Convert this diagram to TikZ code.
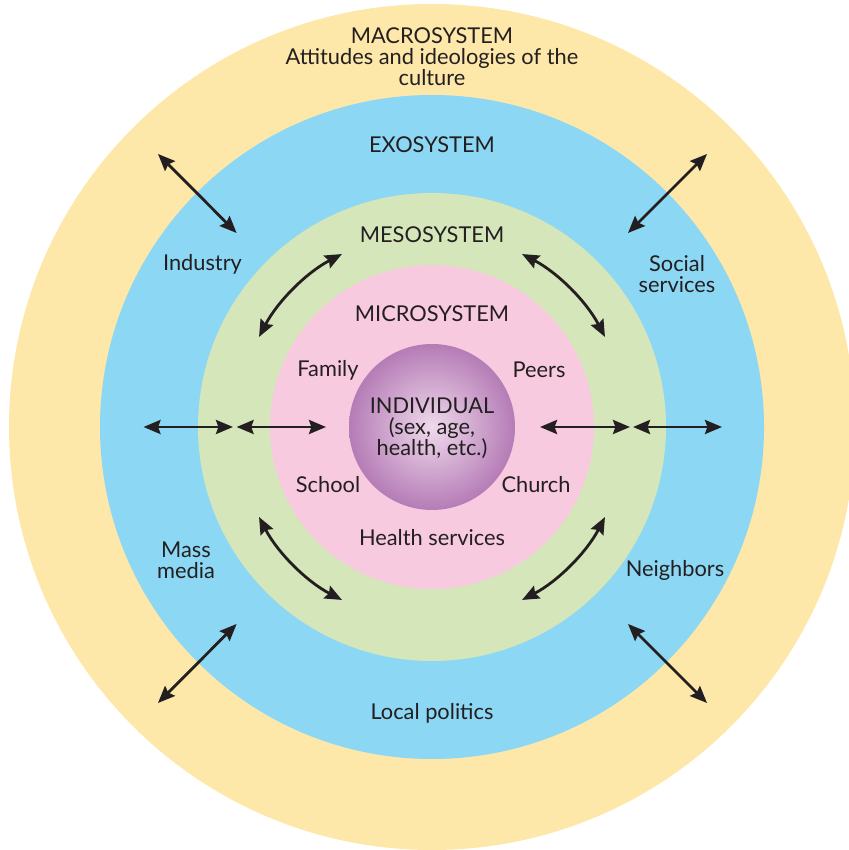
\documentclass[tikz,border=0pt]{standalone}
\usepackage{fontspec}
\setmainfont{Lato}
\usetikzlibrary{arrows.meta}
\definecolor{macrocol}{HTML}{FDE8A9}
\definecolor{exocol}{HTML}{8CD7F4}
\definecolor{mesocol}{HTML}{D5E6BB}
\definecolor{microcol}{HTML}{F8CADF}
\definecolor{indin}{HTML}{EFD9EC}
\definecolor{indout}{HTML}{B57CB6}
\definecolor{ink}{HTML}{231F20}
\tikzset{
  lbl/.style={text=ink, font=\fontsize{10.9}{10.5}\selectfont, align=center, inner sep=0pt},
  link/.style={<->, line width=1.4pt, draw=ink, >={Stealth[length=8.5pt,width=7pt,inset=1.2pt]}},
}
\begin{document}
\begin{tikzpicture}[x=.5pt,y=.5pt]
\useasboundingbox (0,0) rectangle (849,850);
\clip (0,0) rectangle (849,850);
\coordinate (c) at (432,423);
% rings
\fill[macrocol] (c) circle (423);
\fill[exocol] (c) circle (332);
\fill[mesocol] (c) circle (234);
\fill[microcol] (c) circle (162);
\shade[inner color=indin, outer color=indout] (c) circle (83);
% labels
\node[lbl] (macro) at (432,793) {MACROSYSTEM\\Attitudes and ideologies of the\\culture};
\node[lbl] (exo) at (432,705) {EXOSYSTEM};
\node[lbl] (meso) at (432,615.5) {MESOSYSTEM};
\node[lbl] (micro) at (432,536) {MICROSYSTEM};
\node[lbl] (indiv) at (432,422) {INDIVIDUAL\\(sex, age,\\health, etc.)};
\node[lbl] (family) at (328,480) {Family};
\node[lbl] (peers) at (539,480) {Peers};
\node[lbl] (school) at (328,365) {School};
\node[lbl] (church) at (536,365) {Church};
\node[lbl] (health) at (432,312) {Health services};
\node[lbl] (industry) at (202.5,586) {Industry};
\node[lbl] (social) at (677,575.5) {Social\\services};
\node[lbl] (mass) at (186,290) {Mass\\media};
\node[lbl] (neighbors) at (675,280) {Neighbors};
\node[lbl] (local) at (432,136.5) {Local politics};
% straight links
\coordinate (ul1) at (158,696); \coordinate (ul2) at (236.6,617);
\coordinate (ur1) at (707,696); \coordinate (ur2) at (628,617);
\coordinate (ll1) at (236.6,226); \coordinate (ll2) at (158,147);
\coordinate (lr1) at (628,226); \coordinate (lr2) at (707,147);
\draw[link] (ul1) -- (ul2);
\draw[link] (ur1) -- (ur2);
\draw[link] (ll1) -- (ll2);
\draw[link] (lr1) -- (lr2);
\coordinate (w1) at (143.5,423); \coordinate (w2) at (233,423);
\coordinate (w3) at (236.6,423); \coordinate (w4) at (326,423);
\coordinate (e1) at (540,423); \coordinate (e2) at (630,423);
\coordinate (e3) at (633,423); \coordinate (e4) at (722,423);
\draw[link] (w1) -- (w2);
\draw[link] (w3) -- (w4);
\draw[link] (e1) -- (e2);
\draw[link] (e3) -- (e4);
% curved links
\draw[link] (c) ++(152.5:195) arc[start angle=152.5, end angle=117.5, radius=195];
\draw[link] (c) ++(62.5:195) arc[start angle=62.5, end angle=27.5, radius=195];
\draw[link] (c) ++(207.5:195) arc[start angle=207.5, end angle=242.5, radius=195];
\draw[link] (c) ++(297.5:195) arc[start angle=297.5, end angle=332.5, radius=195];
\end{tikzpicture}
\end{document}
